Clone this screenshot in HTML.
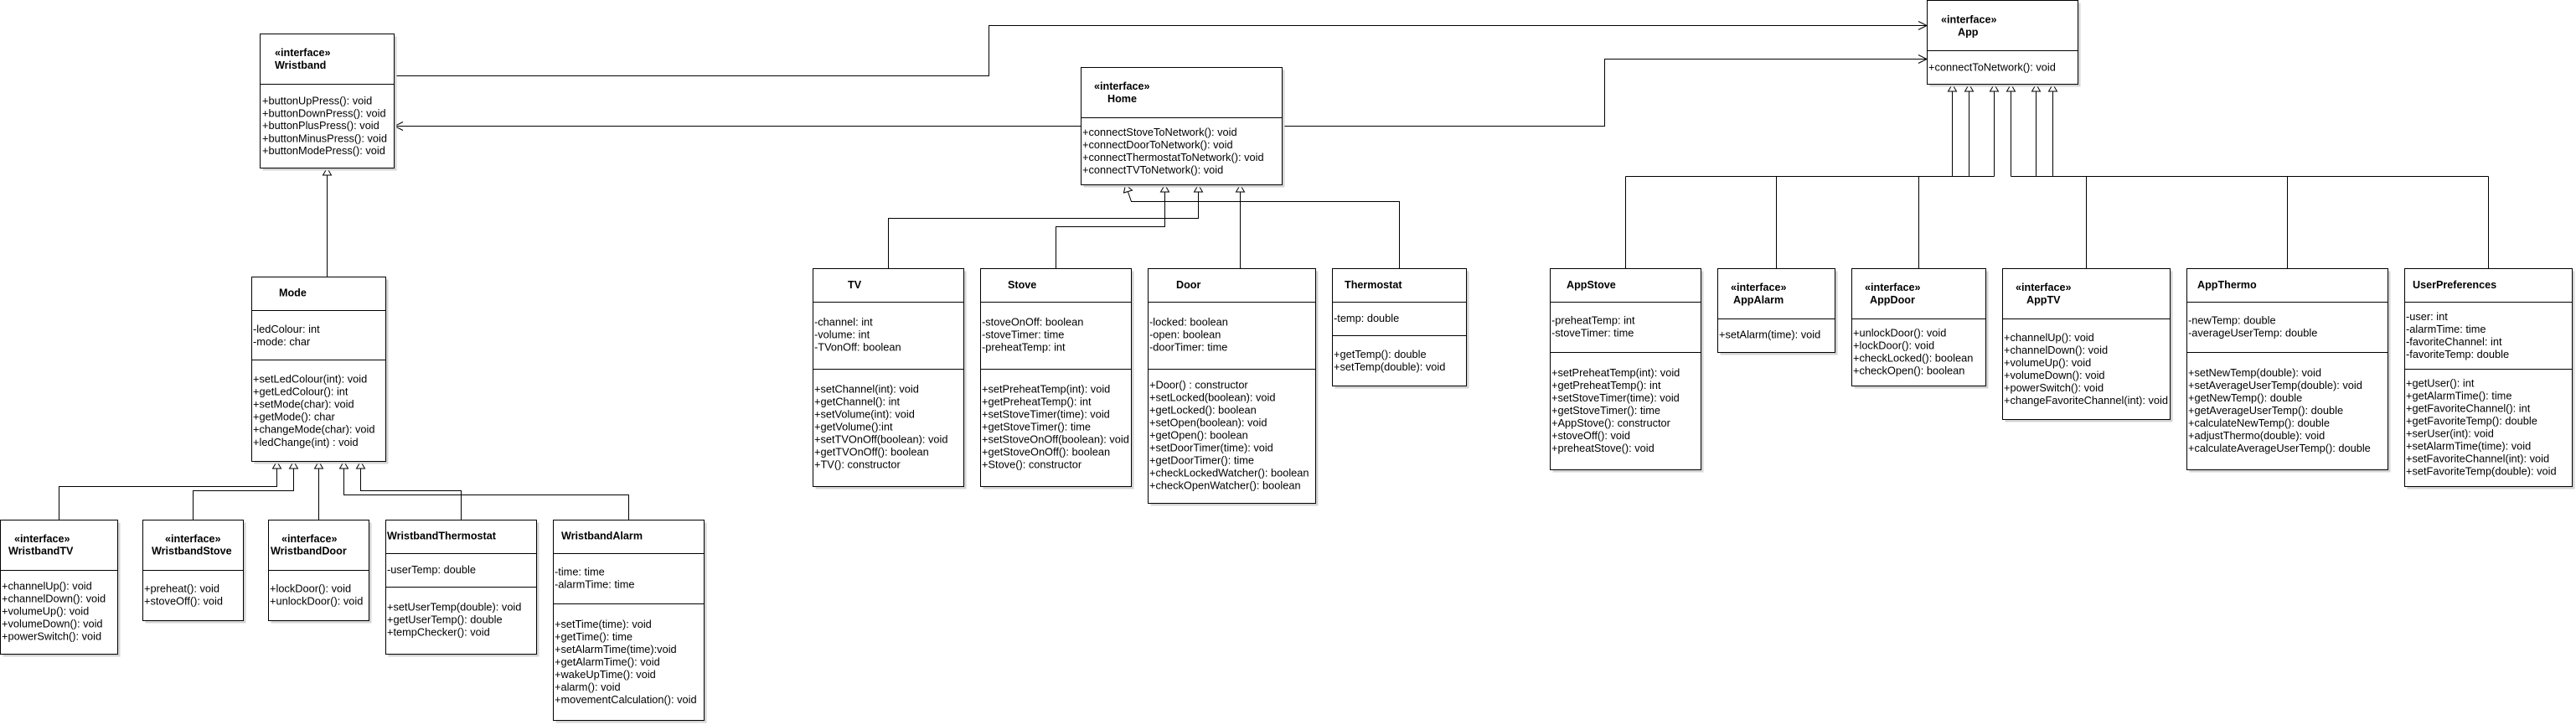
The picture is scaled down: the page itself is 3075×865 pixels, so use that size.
<!DOCTYPE html>
<html><head><meta charset="utf-8"><style>
html,body{margin:0;padding:0;background:#fff;}
svg{display:block;}
text{font-family:"Liberation Sans",Arial,sans-serif;font-size:12.8px;fill:#000;}
.t{font-weight:bold;font-size:12.6px;}
.b{fill:#fff;stroke:#000;stroke-width:1;}
.s{fill:#d4d4d4;}
.l{fill:none;stroke:#000;stroke-width:1;}
.tri{fill:#fff;stroke:#000;stroke-width:1;}
</style></head><body>
<svg width="3075" height="865" viewBox="0 0 3075 865" xmlns="http://www.w3.org/2000/svg">
<!-- connectors -->
<polyline class="l" points="470.5,90.5 1180.5,90.5 1180.5,30.5 2300,30.5"/>
<polyline class="l" points="2290,25.5 2300,30.5 2290,35.5"/>
<line class="l" x1="1290" y1="150.5" x2="471" y2="150.5"/>
<polyline class="l" points="481,145.5 471,150.5 481,155.5"/>
<polyline class="l" points="1530,150.5 1915.5,150.5 1915.5,70.5 2300,70.5"/>
<polyline class="l" points="2290,65.5 2300,70.5 2290,75.5"/>
<line class="l" x1="390.5" y1="330" x2="390.5" y2="209"/>
<polygon class="tri" points="390.5,200.5 385.5,209 395.5,209"/>
<polyline class="l" points="70.5,620 70.5,580.5 330.5,580.5 330.5,559"/>
<polyline class="l" points="230.5,620 230.5,585.5 350.5,585.5 350.5,559"/>
<polyline class="l" points="380.5,620 380.5,559"/>
<polyline class="l" points="550.5,620 550.5,585.5 430.5,585.5 430.5,559"/>
<polyline class="l" points="750.5,620 750.5,590.5 410.5,590.5 410.5,559"/>
<polygon class="tri" points="330.5,550.5 325.5,559 335.5,559"/>
<polygon class="tri" points="350.5,550.5 345.5,559 355.5,559"/>
<polygon class="tri" points="380.5,550.5 375.5,559 385.5,559"/>
<polygon class="tri" points="410.5,550.5 405.5,559 415.5,559"/>
<polygon class="tri" points="430.5,550.5 425.5,559 435.5,559"/>
<polyline class="l" points="1060.5,320 1060.5,260.5 1430.5,260.5 1430.5,229"/>
<polyline class="l" points="1260.5,320 1260.5,270.5 1390.5,270.5 1390.5,229"/>
<polyline class="l" points="1480.5,320 1480.5,229"/>
<polyline class="l" points="1670.5,320 1670.5,240.5 1350.5,240.5 1346.5,229"/>
<polygon class="tri" points="1390.5,220.5 1385.5,229 1395.5,229"/>
<polygon class="tri" points="1430.5,220.5 1425.5,229 1435.5,229"/>
<polygon class="tri" points="1480.5,220.5 1475.5,229 1485.5,229"/>
<polygon class="tri" points="1343.5,220.5 1341.5,230 1351.5,227"/>
<polyline class="l" points="2330.5,109 2330.5,210.5"/>
<polyline class="l" points="2350.5,109 2350.5,210.5"/>
<polyline class="l" points="2380.5,109 2380.5,210.5"/>
<polyline class="l" points="2400.5,109 2400.5,210.5"/>
<polyline class="l" points="2430.5,109 2430.5,210.5"/>
<polyline class="l" points="2450.5,109 2450.5,210.5"/>
<line class="l" x1="1940.5" y1="210.5" x2="2380.5" y2="210.5"/>
<line class="l" x1="2400.5" y1="210.5" x2="2970.5" y2="210.5"/>
<line class="l" x1="1940.5" y1="210.5" x2="1940.5" y2="320"/>
<line class="l" x1="2120.5" y1="210.5" x2="2120.5" y2="320"/>
<line class="l" x1="2290.5" y1="210.5" x2="2290.5" y2="320"/>
<line class="l" x1="2490.5" y1="210.5" x2="2490.5" y2="320"/>
<line class="l" x1="2730.5" y1="210.5" x2="2730.5" y2="320"/>
<line class="l" x1="2970.5" y1="210.5" x2="2970.5" y2="320"/>
<polygon class="tri" points="2330.5,100.5 2325.5,109 2335.5,109"/>
<polygon class="tri" points="2350.5,100.5 2345.5,109 2355.5,109"/>
<polygon class="tri" points="2380.5,100.5 2375.5,109 2385.5,109"/>
<polygon class="tri" points="2400.5,100.5 2395.5,109 2405.5,109"/>
<polygon class="tri" points="2430.5,100.5 2425.5,109 2435.5,109"/>
<polygon class="tri" points="2450.5,100.5 2445.5,109 2455.5,109"/>

<!-- Wristband -->
<rect class="s" x="313.5" y="43.5" width="160" height="160"/>
<rect class="b" x="310.5" y="40.5" width="160" height="160"/>
<line class="l" x1="310.5" y1="100.5" x2="470.5" y2="100.5"/>
<text class="t" x="328" y="67">«interface»</text><text class="t" x="328" y="82">Wristband</text>
<text x="313" y="124.5">+buttonUpPress(): void</text>
<text x="313" y="139.5">+buttonDownPress(): void</text>
<text x="313" y="154">+buttonPlusPress(): void</text>
<text x="313" y="169.5">+buttonMinusPress(): void</text>
<text x="313" y="184">+buttonModePress(): void</text>

<!-- Mode -->
<rect class="s" x="303.5" y="333.5" width="160" height="220"/>
<rect class="b" x="300.5" y="330.5" width="160" height="220"/>
<line class="l" x1="300.5" y1="370.5" x2="460.5" y2="370.5"/>
<line class="l" x1="300.5" y1="429.5" x2="460.5" y2="429.5"/>
<text class="t" x="333" y="353.5">Mode</text>
<text x="302" y="397">-ledColour: int</text>
<text x="302" y="412">-mode: char</text>
<text x="302" y="456.5">+setLedColour(int): void</text>
<text x="302" y="471.5">+getLedColour(): int</text>
<text x="302" y="486.5">+setMode(char): void</text>
<text x="302" y="501.5">+getMode(): char</text>
<text x="302" y="516.5">+changeMode(char): void</text>
<text x="302" y="532">+ledChange(int) : void</text>

<!-- WristbandTV -->
<rect class="s" x="3.5" y="623.5" width="140" height="160"/>
<rect class="b" x="0.5" y="620.5" width="140" height="160"/>
<line class="l" x1="0.5" y1="680.5" x2="140.5" y2="680.5"/>
<text class="t" x="17" y="647">«interface»</text><text class="t" x="10" y="661.5">WristbandTV</text>
<text x="2" y="703.5">+channelUp(): void</text>
<text x="2" y="718.5">+channelDown(): void</text>
<text x="2" y="733.5">+volumeUp(): void</text>
<text x="2" y="748.5">+volumeDown(): void</text>
<text x="2" y="763.5">+powerSwitch(): void</text>

<!-- WristbandStove -->
<rect class="s" x="173.5" y="623.5" width="120" height="120"/>
<rect class="b" x="170.5" y="620.5" width="120" height="120"/>
<line class="l" x1="170.5" y1="680.5" x2="290.5" y2="680.5"/>
<text class="t" x="197" y="647">«interface»</text><text class="t" x="181" y="661.5">WristbandStove</text>
<text x="172" y="706.5">+preheat(): void</text>
<text x="172" y="721.5">+stoveOff(): void</text>

<!-- WristbandDoor -->
<rect class="s" x="323.5" y="623.5" width="120" height="120"/>
<rect class="b" x="320.5" y="620.5" width="120" height="120"/>
<line class="l" x1="320.5" y1="680.5" x2="440.5" y2="680.5"/>
<text class="t" x="336" y="647">«interface»</text><text class="t" x="323" y="661.5">WristbandDoor</text>
<text x="322" y="706.5">+lockDoor(): void</text>
<text x="322" y="721.5">+unlockDoor(): void</text>

<!-- WristbandThermostat -->
<rect class="s" x="463.5" y="623.5" width="180" height="160"/>
<rect class="b" x="460.5" y="620.5" width="180" height="160"/>
<line class="l" x1="460.5" y1="660.5" x2="640.5" y2="660.5"/>
<line class="l" x1="460.5" y1="700.5" x2="640.5" y2="700.5"/>
<text class="t" x="462" y="643.5">WristbandThermostat</text>
<text x="462" y="684">-userTemp: double</text>
<text x="462" y="728.5">+setUserTemp(double): void</text>
<text x="462" y="743.5">+getUserTemp(): double</text>
<text x="462" y="758.5">+tempChecker(): void</text>

<!-- WristbandAlarm -->
<rect class="s" x="663.5" y="623.5" width="180" height="239"/>
<rect class="b" x="660.5" y="620.5" width="180" height="239"/>
<line class="l" x1="660.5" y1="660.5" x2="840.5" y2="660.5"/>
<line class="l" x1="660.5" y1="720.5" x2="840.5" y2="720.5"/>
<text class="t" x="670" y="643.5">WristbandAlarm</text>
<text x="662" y="686.5">-time: time</text>
<text x="662" y="701.5">-alarmTime: time</text>
<text x="662" y="749">+setTime(time): void</text>
<text x="662" y="764">+getTime(): time</text>
<text x="662" y="779">+setAlarmTime(time):void</text>
<text x="662" y="794">+getAlarmTime(): void</text>
<text x="662" y="809">+wakeUpTime(): void</text>
<text x="662" y="824">+alarm(): void</text>
<text x="662" y="839">+movementCalculation(): void</text>

<!-- Home -->
<rect class="s" x="1293.5" y="83.5" width="240" height="140"/>
<rect class="b" x="1290.5" y="80.5" width="240" height="140"/>
<line class="l" x1="1290.5" y1="140.5" x2="1530.5" y2="140.5"/>
<text class="t" x="1306" y="107">«interface»</text><text class="t" x="1322" y="122">Home</text>
<text x="1292" y="162">+connectStoveToNetwork(): void</text>
<text x="1292" y="177">+connectDoorToNetwork(): void</text>
<text x="1292" y="192">+connectThermostatToNetwork(): void</text>
<text x="1292" y="207">+connectTVToNetwork(): void</text>

<!-- TV -->
<rect class="s" x="973.5" y="323.5" width="180" height="260"/>
<rect class="b" x="970.5" y="320.5" width="180" height="260"/>
<line class="l" x1="970.5" y1="360.5" x2="1150.5" y2="360.5"/>
<line class="l" x1="970.5" y1="440.5" x2="1150.5" y2="440.5"/>
<text class="t" x="1012" y="344">TV</text>
<text x="972" y="388.5">-channel: int</text>
<text x="972" y="403.5">-volume: int</text>
<text x="972" y="418.5">-TVonOff: boolean</text>
<text x="972" y="468.5">+setChannel(int): void</text>
<text x="972" y="483.5">+getChannel(): int</text>
<text x="972" y="498.5">+setVolume(int): void</text>
<text x="972" y="513.5">+getVolume():int</text>
<text x="972" y="528.5">+setTVOnOff(boolean): void</text>
<text x="972" y="543.5">+getTVOnOff(): boolean</text>
<text x="972" y="558.5">+TV(): constructor</text>

<!-- Stove -->
<rect class="s" x="1173.5" y="323.5" width="180" height="260"/>
<rect class="b" x="1170.5" y="320.5" width="180" height="260"/>
<line class="l" x1="1170.5" y1="360.5" x2="1350.5" y2="360.5"/>
<line class="l" x1="1170.5" y1="440.5" x2="1350.5" y2="440.5"/>
<text class="t" x="1203" y="344">Stove</text>
<text x="1172" y="388.5">-stoveOnOff: boolean</text>
<text x="1172" y="403.5">-stoveTimer: time</text>
<text x="1172" y="418.5">-preheatTemp: int</text>
<text x="1172" y="468.5">+setPreheatTemp(int): void</text>
<text x="1172" y="483.5">+getPreheatTemp(): int</text>
<text x="1172" y="498.5">+setStoveTimer(time): void</text>
<text x="1172" y="513.5">+getStoveTimer(): time</text>
<text x="1172" y="528.5">+setStoveOnOff(boolean): void</text>
<text x="1172" y="543.5">+getStoveOnOff(): boolean</text>
<text x="1172" y="558.5">+Stove(): constructor</text>

<!-- Door -->
<rect class="s" x="1373.5" y="323.5" width="200" height="280"/>
<rect class="b" x="1370.5" y="320.5" width="200" height="280"/>
<line class="l" x1="1370.5" y1="360.5" x2="1570.5" y2="360.5"/>
<line class="l" x1="1370.5" y1="440.5" x2="1570.5" y2="440.5"/>
<text class="t" x="1404" y="344">Door</text>
<text x="1372" y="388.5">-locked: boolean</text>
<text x="1372" y="403.5">-open: boolean</text>
<text x="1372" y="418.5">-doorTimer: time</text>
<text x="1372" y="463.5">+Door() : constructor</text>
<text x="1372" y="478.5">+setLocked(boolean): void</text>
<text x="1372" y="493.5">+getLocked(): boolean</text>
<text x="1372" y="508.5">+setOpen(boolean): void</text>
<text x="1372" y="523.5">+getOpen(): boolean</text>
<text x="1372" y="538.5">+setDoorTimer(time): void</text>
<text x="1372" y="553.5">+getDoorTimer(): time</text>
<text x="1372" y="568.5">+checkLockedWatcher(): boolean</text>
<text x="1372" y="583.5">+checkOpenWatcher(): boolean</text>

<!-- Thermostat -->
<rect class="s" x="1593.5" y="323.5" width="160" height="140"/>
<rect class="b" x="1590.5" y="320.5" width="160" height="140"/>
<line class="l" x1="1590.5" y1="360.5" x2="1750.5" y2="360.5"/>
<line class="l" x1="1590.5" y1="400.5" x2="1750.5" y2="400.5"/>
<text class="t" x="1605" y="344">Thermostat</text>
<text x="1592" y="384">-temp: double</text>
<text x="1592" y="427">+getTemp(): double</text>
<text x="1592" y="442">+setTemp(double): void</text>

<!-- App -->
<rect class="s" x="2303.5" y="3.5" width="180" height="100"/>
<rect class="b" x="2300.5" y="0.5" width="180" height="100"/>
<line class="l" x1="2300.5" y1="60.5" x2="2480.5" y2="60.5"/>
<text class="t" x="2317" y="27.5">«interface»</text><text class="t" x="2337" y="42.5">App</text>
<text x="2302" y="84.5">+connectToNetwork(): void</text>

<!-- AppStove -->
<rect class="s" x="1853.5" y="323.5" width="180" height="240"/>
<rect class="b" x="1850.5" y="320.5" width="180" height="240"/>
<line class="l" x1="1850.5" y1="360.5" x2="2030.5" y2="360.5"/>
<line class="l" x1="1850.5" y1="420.5" x2="2030.5" y2="420.5"/>
<text class="t" x="1870" y="344">AppStove</text>
<text x="1852" y="386.5">-preheatTemp: int</text>
<text x="1852" y="401.5">-stoveTimer: time</text>
<text x="1852" y="449">+setPreheatTemp(int): void</text>
<text x="1852" y="464">+getPreheatTemp(): int</text>
<text x="1852" y="479">+setStoveTimer(time): void</text>
<text x="1852" y="494">+getStoveTimer(): time</text>
<text x="1852" y="509">+AppStove(): constructor</text>
<text x="1852" y="524">+stoveOff(): void</text>
<text x="1852" y="539">+preheatStove(): void</text>

<!-- AppAlarm -->
<rect class="s" x="2053.5" y="323.5" width="140" height="100"/>
<rect class="b" x="2050.5" y="320.5" width="140" height="100"/>
<line class="l" x1="2050.5" y1="380.5" x2="2190.5" y2="380.5"/>
<text class="t" x="2066" y="347">«interface»</text><text class="t" x="2069" y="362">AppAlarm</text>
<text x="2052" y="403.5">+setAlarm(time): void</text>

<!-- AppDoor -->
<rect class="s" x="2213.5" y="323.5" width="160" height="140"/>
<rect class="b" x="2210.5" y="320.5" width="160" height="140"/>
<line class="l" x1="2210.5" y1="380.5" x2="2370.5" y2="380.5"/>
<text class="t" x="2226" y="347">«interface»</text><text class="t" x="2232" y="362">AppDoor</text>
<text x="2212" y="401.5">+unlockDoor(): void</text>
<text x="2212" y="416.5">+lockDoor(): void</text>
<text x="2212" y="431.5">+checkLocked(): boolean</text>
<text x="2212" y="446.5">+checkOpen(): boolean</text>

<!-- AppTV -->
<rect class="s" x="2393.5" y="323.5" width="200" height="180"/>
<rect class="b" x="2390.5" y="320.5" width="200" height="180"/>
<line class="l" x1="2390.5" y1="380.5" x2="2590.5" y2="380.5"/>
<text class="t" x="2406" y="347">«interface»</text><text class="t" x="2419" y="362">AppTV</text>
<text x="2392" y="407">+channelUp(): void</text>
<text x="2392" y="422">+channelDown(): void</text>
<text x="2392" y="437">+volumeUp(): void</text>
<text x="2392" y="452">+volumeDown(): void</text>
<text x="2392" y="467">+powerSwitch(): void</text>
<text x="2392" y="482">+changeFavoriteChannel(int): void</text>

<!-- AppThermo -->
<rect class="s" x="2613.5" y="323.5" width="240" height="240"/>
<rect class="b" x="2610.5" y="320.5" width="240" height="240"/>
<line class="l" x1="2610.5" y1="360.5" x2="2850.5" y2="360.5"/>
<line class="l" x1="2610.5" y1="420.5" x2="2850.5" y2="420.5"/>
<text class="t" x="2623" y="344">AppThermo</text>
<text x="2612" y="386.5">-newTemp: double</text>
<text x="2612" y="401.5">-averageUserTemp: double</text>
<text x="2612" y="449">+setNewTemp(double): void</text>
<text x="2612" y="464">+setAverageUserTemp(double): void</text>
<text x="2612" y="479">+getNewTemp(): double</text>
<text x="2612" y="494">+getAverageUserTemp(): double</text>
<text x="2612" y="509">+calculateNewTemp(): double</text>
<text x="2612" y="524">+adjustThermo(double): void</text>
<text x="2612" y="539">+calculateAverageUserTemp(): double</text>

<!-- UserPreferences -->
<rect class="s" x="2873.5" y="323.5" width="200" height="260"/>
<rect class="b" x="2870.5" y="320.5" width="200" height="260"/>
<line class="l" x1="2870.5" y1="360.5" x2="3070.5" y2="360.5"/>
<line class="l" x1="2870.5" y1="440.5" x2="3070.5" y2="440.5"/>
<text class="t" x="2880" y="344">UserPreferences</text>
<text x="2872" y="382">-user: int</text>
<text x="2872" y="397">-alarmTime: time</text>
<text x="2872" y="412">-favoriteChannel: int</text>
<text x="2872" y="427">-favoriteTemp: double</text>
<text x="2872" y="461.5">+getUser(): int</text>
<text x="2872" y="476.5">+getAlarmTime(): time</text>
<text x="2872" y="491.5">+getFavoriteChannel(): int</text>
<text x="2872" y="506.5">+getFavoriteTemp(): double</text>
<text x="2872" y="521.5">+serUser(int): void</text>
<text x="2872" y="536.5">+setAlarmTime(time): void</text>
<text x="2872" y="551.5">+setFavoriteChannel(int): void</text>
<text x="2872" y="566.5">+setFavoriteTemp(double): void</text>
</svg>
</body></html>
